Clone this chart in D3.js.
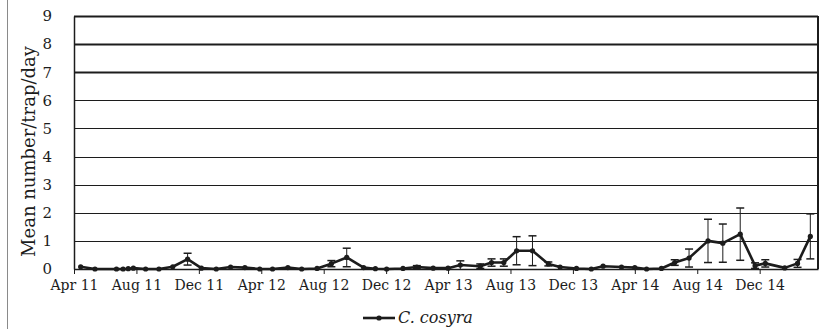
<!DOCTYPE html>
<html>
<head>
<meta charset="utf-8">
<script src="https://cdn.jsdelivr.net/npm/d3@7"></script>
<style>
  body { margin: 0; background: #fff; }
  svg { display: block; }
</style>
</head>
<body>
<svg id="chart" width="828" height="329"></svg>
<script>
// Trap sampling dates
const sampleDates = [
  "2011-04-14","2011-05-12","2011-06-23","2011-07-06","2011-07-16","2011-07-26",
  "2011-08-19","2011-09-14","2011-10-11","2011-11-09","2011-12-06","2012-01-04",
  "2012-02-01","2012-02-29","2012-03-29","2012-04-23","2012-05-23","2012-06-19",
  "2012-07-19","2012-08-16","2012-09-15","2012-10-18","2012-11-10","2012-12-02",
  "2013-01-03","2013-01-30","2013-03-03","2013-04-01","2013-04-25","2013-06-03",
  "2013-06-25","2013-07-19","2013-08-13","2013-09-13","2013-10-14","2013-11-06",
  "2013-12-08","2014-01-06","2014-01-29","2014-03-06","2014-04-01","2014-04-24",
  "2014-05-23","2014-06-18","2014-07-16","2014-08-22","2014-09-20","2014-10-24",
  "2014-11-22","2014-12-12","2015-01-19","2015-02-13","2015-03-10"
];
// Mean number of flies per trap per day
const meanCatch = [
  0.08, 0, 0, 0, 0.01, 0.03,
  0, 0, 0.08, 0.35, 0.03, 0,
  0.07, 0.05, 0, 0, 0.05, 0,
  0.02, 0.19, 0.41, 0.05, 0.01, 0,
  0.02, 0.07, 0.03, 0.03, 0.14, 0.10,
  0.23, 0.23, 0.65, 0.65, 0.18, 0.07,
  0.02, 0, 0.10, 0.07, 0.05, 0,
  0.02, 0.23, 0.39, 1.00, 0.92, 1.24,
  0.12, 0.20, 0.04, 0.20, 1.16
];
// Standard error of the mean
const catchError = [
  0.02, 0, 0, 0, 0, 0.01,
  0, 0, 0.02, 0.21, 0.02, 0,
  0.02, 0.02, 0, 0, 0.02, 0,
  0.01, 0.11, 0.33, 0.02, 0, 0,
  0.01, 0.05, 0.02, 0.02, 0.15, 0.08,
  0.13, 0.13, 0.50, 0.53, 0.07, 0.03,
  0.01, 0, 0.03, 0.03, 0.02, 0,
  0.01, 0.10, 0.32, 0.77, 0.68, 0.93,
  0.10, 0.13, 0.02, 0.14, 0.80
];
const yTicks = [0, 1, 2, 3, 4, 5, 6, 7, 8, 9];
const xTickDates = [
  "2011-04-01","2011-08-01","2011-12-01","2012-04-01","2012-08-01","2012-12-01",
  "2013-04-01","2013-08-01","2013-12-01","2014-04-01","2014-08-01","2014-12-01"
];
const xDomain = ["2011-04-01", "2015-03-25"];
const yAxisTitle = "Mean number/trap/day";
const seriesName = "C. cosyra";

const parse = d3.utcParse("%Y-%m-%d");
const points = sampleDates.map((d, i) => ({ date: parse(d), v: meanCatch[i], e: catchError[i] }));

const svg = d3.select("#chart");
const plot = { left: 74, right: 818, top: 16, bottom: 269 };
const serif = "'DejaVu Serif', serif";
const ink = "#1c1c1c";

const x = d3.scaleUtc().domain(xDomain.map(parse)).range([plot.left, plot.right]);
const y = d3.scaleLinear().domain([0, 9]).range([plot.bottom, plot.top]);

// outer frame edge on the left
svg.append("line").attr("x1", 7.5).attr("x2", 7.5).attr("y1", 0).attr("y2", 329)
  .attr("stroke", "#8a8a8a").attr("stroke-width", 1);

// horizontal gridlines
svg.append("g").selectAll("line").data(yTicks.filter(t => t > 0)).join("line")
  .attr("x1", plot.left).attr("x2", plot.right)
  .attr("y1", d => Math.round(y(d)) + 0.5).attr("y2", d => Math.round(y(d)) + 0.5)
  .attr("stroke", ink).attr("stroke-width", d => d >= 7 ? 2 : 1);

// right edge of plot area
svg.append("line").attr("x1", plot.right).attr("x2", plot.right)
  .attr("y1", y(9)).attr("y2", plot.bottom)
  .attr("stroke", ink).attr("stroke-width", 2);

// y axis
const yAxis = svg.append("g").attr("transform", `translate(${plot.left},0)`)
  .call(d3.axisLeft(y).tickValues(yTicks).tickFormat(d3.format("d")).tickSize(0).tickPadding(22));
yAxis.select(".domain").attr("stroke", ink).attr("stroke-width", 1.5);
yAxis.selectAll("text").attr("font-family", serif).attr("font-size", 15).attr("fill", ink);

// x axis
const xAxis = svg.append("g").attr("transform", `translate(0,${plot.bottom})`)
  .call(d3.axisBottom(x).tickValues(xTickDates.map(parse)).tickFormat(d3.utcFormat("%b %y"))
    .tickSizeInner(5).tickSizeOuter(0).tickPadding(6));
xAxis.select(".domain").attr("stroke", ink).attr("stroke-width", 1.5);
xAxis.selectAll(".tick line").attr("stroke", ink);
xAxis.selectAll("text").attr("font-family", serif).attr("font-size", 14).attr("fill", ink);

// y axis title
svg.append("text")
  .attr("transform", `translate(35,${(plot.top + plot.bottom) / 2 + 9}) rotate(-90)`)
  .attr("text-anchor", "middle")
  .attr("font-family", serif).attr("font-size", 18).attr("fill", ink)
  .text(yAxisTitle);

// error bars
const eb = svg.append("g").selectAll("g").data(points.filter(p => p.e > 0.04)).join("g");
eb.append("line")
  .attr("x1", p => x(p.date)).attr("x2", p => x(p.date))
  .attr("y1", p => y(Math.max(0, p.v - p.e))).attr("y2", p => y(p.v + p.e))
  .attr("stroke", ink).attr("stroke-width", 1);
eb.append("line")
  .attr("x1", p => x(p.date) - 4).attr("x2", p => x(p.date) + 4)
  .attr("y1", p => y(p.v + p.e)).attr("y2", p => y(p.v + p.e))
  .attr("stroke", ink).attr("stroke-width", 1.5);
eb.filter(p => p.v - p.e > 0).append("line")
  .attr("x1", p => x(p.date) - 4).attr("x2", p => x(p.date) + 4)
  .attr("y1", p => y(p.v - p.e)).attr("y2", p => y(p.v - p.e))
  .attr("stroke", ink).attr("stroke-width", 1.5);

// series line
svg.append("path").datum(points)
  .attr("fill", "none").attr("stroke", ink).attr("stroke-width", 2.6)
  .attr("stroke-linejoin", "round")
  .attr("d", d3.line().x(p => x(p.date)).y(p => y(p.v)));

// markers
svg.append("g").selectAll("circle").data(points).join("circle")
  .attr("cx", p => x(p.date)).attr("cy", p => y(p.v)).attr("r", 2.6)
  .attr("fill", ink);

// legend
const lg = svg.append("g").attr("transform", "translate(363,318)");
lg.append("line").attr("x1", 0).attr("x2", 32).attr("stroke", ink).attr("stroke-width", 2.6);
lg.append("circle").attr("cx", 16).attr("r", 2.6).attr("fill", ink);
lg.append("text").attr("x", 35).attr("y", 5)
  .attr("font-family", serif).attr("font-style", "italic").attr("font-size", 16).attr("fill", ink)
  .text(seriesName);
</script>
</body>
</html>
